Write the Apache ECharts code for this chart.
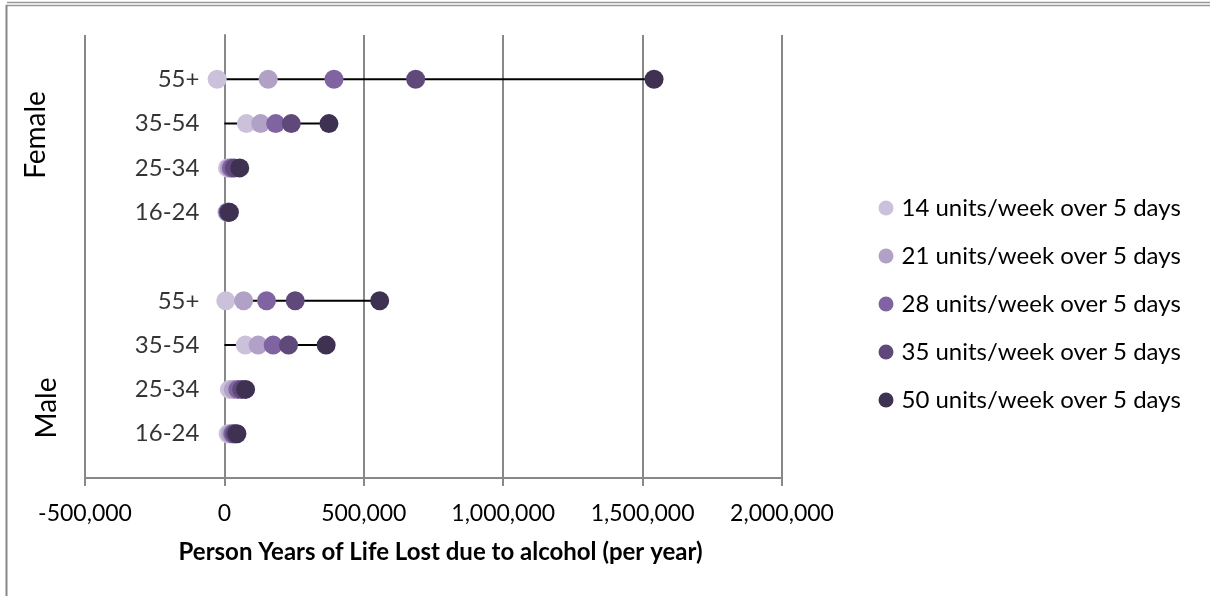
<!DOCTYPE html>
<html>
<head>
<meta charset="utf-8">
<script src="https://cdn.jsdelivr.net/npm/echarts@6/dist/echarts.min.js"></script>
<style>
  html, body { margin: 0; padding: 0; background: #fff; }
  #chart { width: 1210px; height: 596px; }
</style>
</head>
<body>
<div id="chart"></div>
<script>
// Person years of life lost due to alcohol, by sex, age band and weekly consumption
const groups = ['Female', 'Male'];
const ageBands = ['55+', '35-54', '25-34', '16-24'];

// Each array: Female 55+, 35-54, 25-34, 16-24, then Male 55+, 35-54, 25-34, 16-24
const units14 = [-26000, 79000, 11000, 9000, 5000, 75000, 18000, 13000];
const units21 = [157000, 130000, 18000, 11000, 69000, 121000, 32000, 22000];
const units28 = [393000, 184000, 25000, 13000, 151000, 175000, 48000, 30000];
const units35 = [686000, 240000, 35000, 15000, 254000, 230000, 62000, 37000];
const units50 = [1541000, 375000, 55000, 18000, 557000, 365000, 76000, 45000];

const seriesNames = [
  '14 units/week over 5 days',
  '21 units/week over 5 days',
  '28 units/week over 5 days',
  '35 units/week over 5 days',
  '50 units/week over 5 days'
];
const seriesValues = [units14, units21, units28, units35, units50];
const seriesColors = ['#CCC1DA', '#B2A1C7', '#8064A2', '#5F497A', '#3F3151'];

const xTicks = [-500000, 0, 500000, 1000000, 1500000, 2000000];

const FONT = 'Lato';

// Row position on the hidden vertical scale: one empty slot between the groups
const rowCount = groups.length * ageBands.length;
function rowPos(i) {
  const g = Math.floor(i / ageBands.length);
  const b = i % ageBands.length;
  return (groups.length * (ageBands.length + 1)) - 1 - g * (ageBands.length + 1) - b;
}
function rowLabel(i) { return ageBands[i % ageBands.length]; }

const fmt = v => {
  const s = Math.abs(v).toString().replace(/\B(?=(\d{3})+(?!\d))/g, ',');
  return (v < 0 ? '-' : '') + s;
};

const series = [];

// Range line from zero out to the highest consumption value in each row
for (let i = 0; i < rowCount; i++) {
  series.push({
    type: 'line',
    silent: true,
    symbol: 'none',
    z: 1,
    lineStyle: { color: '#000', width: 2 },
    data: [[0, rowPos(i)], [units50[i], rowPos(i)]]
  });
}

// Age band labels sitting just left of zero
series.push({
  type: 'scatter',
  silent: true,
  symbolSize: 0,
  z: 3,
  data: Array.from({ length: rowCount }, (_, i) => ({ value: [0, rowPos(i)], name: rowLabel(i) })),
  label: {
    show: true,
    position: 'left',
    distance: 25,
    formatter: p => p.name,
    fontFamily: FONT,
    fontSize: 24,
    color: '#000'
  }
});

seriesNames.forEach((name, k) => {
  series.push({
    type: 'scatter',
    name: name,
    symbol: 'circle',
    symbolSize: 19,
    z: 4 + k,
    itemStyle: { color: seriesColors[k], opacity: 1 },
    data: seriesValues[k].map((v, i) => [v, rowPos(i)])
  });
});

const chart = echarts.init(document.getElementById('chart'), null, { renderer: 'canvas' });
chart.setOption({
  animation: false,
  backgroundColor: '#fff',
  textStyle: { fontFamily: FONT },
  grid: { left: 85, right: 428, top: 35, bottom: 118, containLabel: false },
  xAxis: {
    type: 'value',
    min: xTicks[0],
    max: xTicks[xTicks.length - 1],
    interval: xTicks[1] - xTicks[0],
    name: 'Person Years of Life Lost due to alcohol (per year)',
    nameLocation: 'middle',
    nameGap: 62,
    nameTextStyle: { fontFamily: FONT, fontSize: 24, fontWeight: 'bold', color: '#000', padding: [0, 0, 0, 14] },
    axisLine: { show: true, onZero: false, lineStyle: { color: '#888', width: 2 } },
    axisTick: { show: true, inside: false, length: 8, lineStyle: { color: '#888', width: 2 } },
    axisLabel: { formatter: fmt, margin: 36, fontFamily: FONT, fontSize: 23, color: '#000', verticalAlign: 'middle' },
    splitLine: { show: true, lineStyle: { color: '#888', width: 2 } }
  },
  yAxis: {
    type: 'value',
    min: 0,
    max: groups.length * (ageBands.length + 1),
    interval: 1,
    axisLine: { show: true, lineStyle: { color: '#888', width: 2 } },
    axisTick: { show: false },
    axisLabel: { show: false },
    splitLine: { show: false }
  },
  legend: {
    orient: 'vertical',
    left: 873.5,
    top: 191,
    itemWidth: 15,
    itemHeight: 15,
    itemGap: 24,
    icon: 'circle',
    data: seriesNames,
    textStyle: { fontFamily: FONT, fontSize: 24, color: '#000', lineHeight: 22, padding: [0, 0, 0, 3] }
  },
  graphic: [
    { type: 'line', silent: true, shape: { x1: 7, y1: 2.5, x2: 1210, y2: 2.5 }, style: { stroke: '#999', lineWidth: 1.5 } },
    { type: 'line', silent: true, shape: { x1: 6, y1: 5.5, x2: 1210, y2: 5.5 }, style: { stroke: '#999', lineWidth: 1.5 } },
    { type: 'line', silent: true, shape: { x1: 6.5, y1: 5, x2: 6.5, y2: 596 }, style: { stroke: '#888', lineWidth: 2 } },
    {
      type: 'text', silent: true, x: 36, y: 135, rotation: Math.PI / 2,
      style: { text: groups[0], font: '28px ' + FONT, fill: '#000', align: 'center', verticalAlign: 'middle' }
    },
    {
      type: 'text', silent: true, x: 47, y: 408, rotation: Math.PI / 2,
      style: { text: groups[1], font: '28px ' + FONT, fill: '#000', align: 'center', verticalAlign: 'middle' }
    }
  ],
  series: series
});
</script>
</body>
</html>
